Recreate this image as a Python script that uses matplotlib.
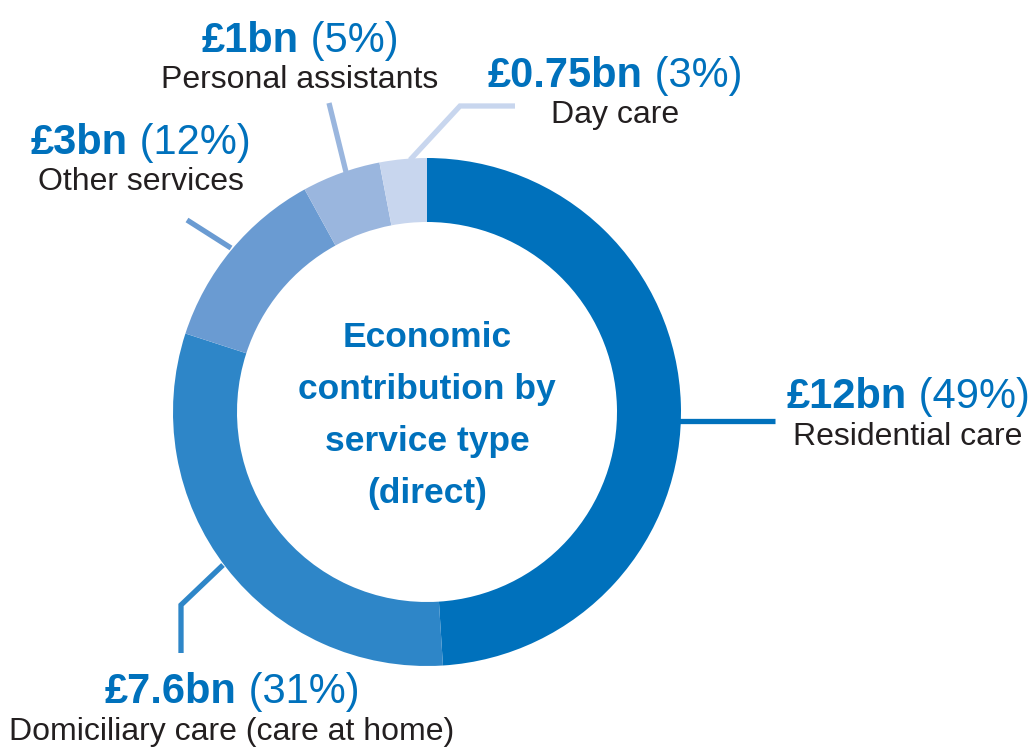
import numpy as np
import matplotlib.pyplot as plt

plt.rcParams['font.family'] = ['Liberation Sans', 'DejaVu Sans']

# data
services = ["Residential care", "Domiciliary care (care at home)", "Other services",
            "Personal assistants", "Day care"]
value_txt = ["£12bn", "£7.6bn", "£3bn", "£1bn", "£0.75bn"]
share_pct = [49, 31, 12, 5, 3]
colors = ["#0071bc", "#2e86c8", "#6a9bd2", "#9ab6de", "#c8d6ee"]
centre_lines = ["Economic", "contribution by", "service type", "(direct)"]

W, H = 1032, 748
BLUE = "#0071bc"
DARK = "#231f20"


def Y(y):
    # image row -> data y
    return H - y


fig = plt.figure(figsize=(W / 100, H / 100), dpi=100)
ax = fig.add_axes([0, 0, 1, 1])

cx, cy, r = 427, Y(412), 254
ax.pie(share_pct, colors=colors, startangle=90, counterclock=False,
       center=(cx, cy), radius=r,
       wedgeprops=dict(width=64, linewidth=0))

ax.set_xlim(0, W)
ax.set_ylim(0, H)
ax.set_aspect("equal")
ax.axis("off")

# leader lines (image coords)
leaders = [
    [(679, 421), (775, 421)],
    [(223, 565), (181, 605), (181, 653)],
    [(231, 248), (187, 220)],
    [(346, 172), (329, 103)],
    [(410, 160), (460, 106), (515, 106)],
]
for pts, c in zip(leaders, colors):
    xs = [p[0] for p in pts]
    ys = [Y(p[1]) for p in pts]
    ax.plot(xs, ys, color=c, lw=3.8, solid_capstyle="butt",
            solid_joinstyle="miter")

# label anchors: centre x, baseline of value line, baseline of name line
anchors = [
    (908, 408, 445),
    (232, 703, 740),
    (141, 154, 190),
    (300, 52, 88),
    (615, 87, 123),
]

fig.canvas.draw()
rend = fig.canvas.get_renderer()

for (x, yb, yn), v, p, name in zip(anchors, value_txt, share_pct, services):
    tb = ax.text(0, Y(yb), v, fontsize=30, fontweight="bold", color=BLUE,
                 ha="left", va="baseline")
    ts = ax.text(0, Y(yb), f" ({p}%)", fontsize=30, color=BLUE,
                 ha="left", va="baseline")
    wb = tb.get_window_extent(rend).width
    ws = ts.get_window_extent(rend).width
    x0 = x - (wb + ws) / 2
    tb.set_x(x0)
    ts.set_x(x0 + wb)
    ax.text(x, Y(yn), name, fontsize=23, color=DARK, ha="center",
            va="baseline")

# centre title
for i, line in enumerate(centre_lines):
    ax.text(cx, Y(347 + 52 * i), line, fontsize=25.5, fontweight="bold",
            color=BLUE, ha="center", va="baseline")

fig.savefig("out.png", dpi=100)
